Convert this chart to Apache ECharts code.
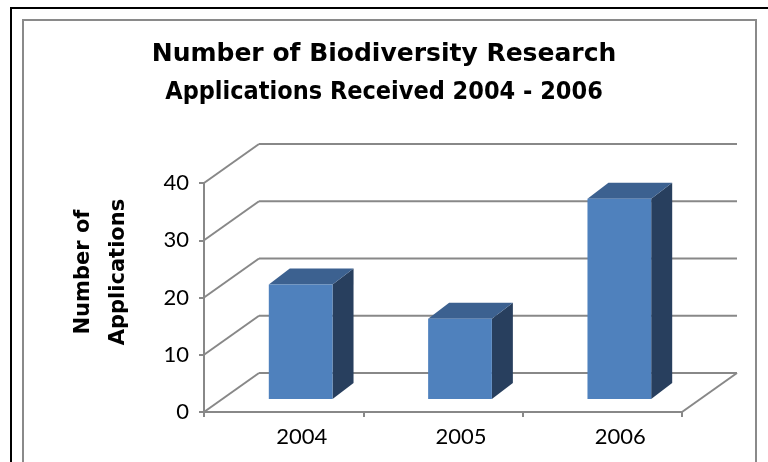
<!DOCTYPE html>
<html><head><meta charset="utf-8">
<script src="https://cdn.jsdelivr.net/npm/echarts@6/dist/echarts.min.js"></script>
<style>html,body{margin:0;padding:0;background:#fff}#c{width:768px;height:462px}</style>
</head><body><div id="c"></div>
<script>
const titleLines = ['Number of Biodiversity Research', 'Applications Received 2004 - 2006'];
const yAxisTitle = ['Number of', 'Applications'];
const categories = ['2004', '2005', '2006'];
const applications = [20, 14, 35];
const yTicks = [0, 10, 20, 30, 40];

const DEPTH = [55, -39];
const BAR_FRONT = [17, -13];
const BAR_DEPTH = [21, -16];
const BAR_W = 0.4;
const GRID_COLOR = '#888888';

const chart = echarts.init(document.getElementById('c'), null, {renderer: 'canvas'});

const wallSeries = {
  type: 'custom',
  z: 1,
  silent: true,
  data: yTicks.map(v => [0, v]),
  renderItem: function (params, api) {
    const v = api.value(1);
    const p = api.coord([0, v]);
    const cw = api.size([1, 0])[0];
    const left = p[0] - cw / 2;
    const right = api.coord([categories.length - 1, v])[0] + cw / 2;
    const y = p[1];
    const style = {stroke: GRID_COLOR, lineWidth: 2};
    const children = [
      {type: 'line', shape: {x1: left, y1: y, x2: left + DEPTH[0], y2: y + DEPTH[1]}, style: style},
      {type: 'line', shape: {x1: left + DEPTH[0], y1: y + DEPTH[1], x2: right + DEPTH[0], y2: y + DEPTH[1]}, style: style}
    ];
    if (v === 0) {
      children.push({type: 'line', shape: {x1: right, y1: y, x2: right + DEPTH[0], y2: y + DEPTH[1]}, style: style});
    }
    return {type: 'group', children: children};
  }
};

const barSeries = {
  type: 'custom',
  name: 'Applications',
  z: 3,
  data: applications.map((v, i) => [i, v]),
  renderItem: function (params, api) {
    const i = api.value(0);
    const v = api.value(1);
    const base = api.coord([i, 0]);
    const top = api.coord([i, v]);
    const cw = api.size([1, 0])[0];
    const w = cw * BAR_W;
    const x0 = base[0] + BAR_FRONT[0] - w / 2;
    const x1 = x0 + w;
    const yb = base[1] + BAR_FRONT[1];
    const yt = top[1] + BAR_FRONT[1];
    const dx = BAR_DEPTH[0], dy = BAR_DEPTH[1];
    return {
      type: 'group',
      children: [
        {type: 'polygon', shape: {points: [[x1, yt], [x1 + dx, yt + dy], [x1 + dx, yb + dy], [x1, yb]]}, style: {fill: '#283F5E'}},
        {type: 'polygon', shape: {points: [[x0, yt], [x1, yt], [x1 + dx, yt + dy], [x0 + dx, yt + dy]]}, style: {fill: '#3C6190'}},
        {type: 'rect', shape: {x: x0, y: yt, width: w, height: yb - yt}, style: {fill: '#4F81BD'}}
      ]
    };
  }
};

const option = {
  backgroundColor: '#ffffff',
  animation: false,
  title: [
    {
      text: titleLines[0],
      left: 'center',
      top: 35,
      padding: 0,
      textStyle: {fontFamily: 'DejaVu Sans', fontWeight: 'bold', fontSize: 25, lineHeight: 39, color: '#000'}
    },
    {
      text: titleLines[1],
      left: 'center',
      top: 73,
      padding: 0,
      textStyle: {fontFamily: '"DejaVu Sans Condensed", "DejaVu Sans"', fontWeight: 'bold', fontSize: 25, lineHeight: 39, color: '#000'}
    }
  ],
  grid: {left: 204, top: 183, width: 478, height: 229, containLabel: false, outerBoundsMode: 'none'},
  xAxis: {
    type: 'category',
    data: categories,
    axisLine: {show: true, lineStyle: {color: GRID_COLOR, width: 2}},
    axisTick: {show: true, length: 5, alignWithLabel: false, lineStyle: {color: GRID_COLOR, width: 2}},
    axisLabel: {margin: 14, color: '#000', fontFamily: 'Lato', fontSize: 22, padding: [0, 0, 0, 36]},
    splitLine: {show: false}
  },
  yAxis: {
    type: 'value',
    min: 0, max: 40, interval: 10,
    name: yAxisTitle.join('\n'),
    nameLocation: 'middle',
    nameRotate: 90,
    nameGap: 68,
    nameTextStyle: {fontFamily: 'DejaVu Sans', fontWeight: 'bold', fontSize: 21, lineHeight: 35, color: '#000', padding: [0, 0, 0, 51]},
    axisLine: {show: true, lineStyle: {color: GRID_COLOR, width: 2}},
    axisTick: {show: true, length: 5, lineStyle: {color: GRID_COLOR, width: 2}},
    axisLabel: {margin: 15, color: '#000', fontFamily: 'Lato', fontSize: 22},
    splitLine: {show: false}
  },
  graphic: [
    {type: 'rect', z: -10, silent: true, shape: {x: 11, y: 8, width: 800, height: 500}, style: {fill: null, stroke: '#000', lineWidth: 2}},
    {type: 'rect', z: -10, silent: true, shape: {x: 23, y: 20, width: 733, height: 500}, style: {fill: null, stroke: '#8a8a8a', lineWidth: 2}}
  ],
  series: [wallSeries, barSeries]
};
chart.setOption(option);
</script>
</body></html>
